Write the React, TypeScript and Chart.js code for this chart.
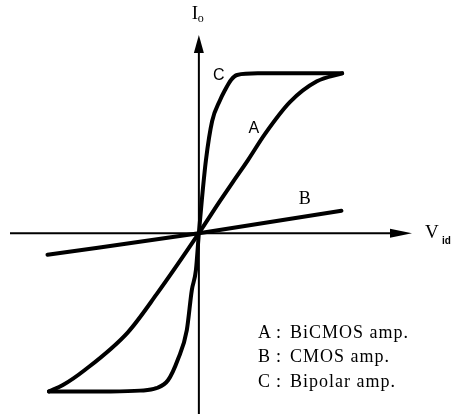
import React, { useEffect, useRef } from "react";
import { Chart, registerables } from "chart.js";

Chart.register(...registerables);

// Transfer characteristics: differential input voltage (normalised) vs output current (normalised)
const bipolarVid = [-1.02, -0.6, -0.4, -0.29, -0.21, -0.143, -0.082, -0.048, -0.02, 0, 0.02, 0.048, 0.09, 0.143, 0.177, 0.22, 0.26, 0.4, 0.975];
const bipolarIo = [-0.99, -0.99, -0.985, -0.97, -0.92, -0.79, -0.606, -0.356, -0.23, 0, 0.206, 0.456, 0.7, 0.83, 0.894, 0.96, 0.99, 1.0, 1.0];

const bicmosVid = [-1.02, -0.925, -0.776, -0.483, -0.286, 0, 0.143, 0.231, 0.333, 0.449, 0.619, 0.803, 0.975];
const bicmosIo = [-0.99, -0.95, -0.856, -0.62, -0.38, 0, 0.2, 0.32, 0.456, 0.62, 0.82, 0.95, 1.0];

const cmosVid = [-1.03, 0, 0.97];
const cmosIo = [-0.135, 0, 0.14];

// Curve tags and where they sit (data coordinates)
const tagText = ["C", "A", "B"];
const tagVid = [0.136, 0.374, 0.721];
const tagIo = [0.987, 0.656, 0.2125];

// Key in the lower right corner
const keyLetters = ["A", "B", "C"];
const keyNames = ["BiCMOS amp.", "CMOS amp.", "Bipolar amp."];

const toPoints = (xs: number[], ys: number[]) => xs.map((x, i) => ({ x, y: ys[i] }));

const SERIF = '"Liberation Serif", "DejaVu Serif", serif';
const SANS = '"Liberation Sans", Arial, sans-serif';

const decorations = {
  id: "decorations",
  beforeDatasetsDraw(chart: any) {
    const { ctx, chartArea, scales } = chart;
    const x0 = scales.x.getPixelForValue(0);
    const y0 = scales.y.getPixelForValue(0);
    ctx.save();
    ctx.strokeStyle = "#000";
    ctx.fillStyle = "#000";
    ctx.lineWidth = 2;
    // horizontal axis with arrow
    const xr = chartArea.right;
    ctx.beginPath();
    ctx.moveTo(chartArea.left, y0);
    ctx.lineTo(xr - 10, y0);
    ctx.stroke();
    ctx.beginPath();
    ctx.moveTo(xr, y0);
    ctx.lineTo(xr - 22, y0 - 4.5);
    ctx.lineTo(xr - 22, y0 + 4.5);
    ctx.closePath();
    ctx.fill();
    // vertical axis with arrow
    const yt = chartArea.top;
    ctx.beginPath();
    ctx.moveTo(x0, chart.height);
    ctx.lineTo(x0, yt + 10);
    ctx.stroke();
    ctx.beginPath();
    ctx.moveTo(x0, yt);
    ctx.lineTo(x0 - 5, yt + 18);
    ctx.lineTo(x0 + 5, yt + 18);
    ctx.closePath();
    ctx.fill();
    ctx.restore();
  },
  afterDatasetsDraw(chart: any) {
    const { ctx, chartArea, scales } = chart;
    const x0 = scales.x.getPixelForValue(0);
    const y0 = scales.y.getPixelForValue(0);
    ctx.save();
    ctx.fillStyle = "#000";
    ctx.textBaseline = "middle";
    // axis titles
    ctx.textAlign = "left";
    ctx.font = `19px ${SERIF}`;
    ctx.fillText("I", x0 - 7, chartArea.top - 21);
    ctx.font = `12px ${SERIF}`;
    ctx.fillText("o", x0 - 1, chartArea.top - 16);
    ctx.font = `19px ${SERIF}`;
    ctx.fillText("V", chartArea.right + 13, y0);
    ctx.font = `bold 10px ${SANS}`;
    ctx.fillText("id", chartArea.right + 30, y0 + 8);
    // curve tags
    ctx.textAlign = "center";
    tagText.forEach((t, i) => {
      ctx.font = t === "B" ? `18px ${SERIF}` : `16px ${SANS}`;
      ctx.fillText(t, scales.x.getPixelForValue(tagVid[i]), scales.y.getPixelForValue(tagIo[i]));
    });
    // key
    ctx.textAlign = "left";
    ctx.font = `18px ${SERIF}`;
    (ctx as any).letterSpacing = "1px";
    const kx = chartArea.left + 248;
    const ky = chartArea.bottom - 76;
    keyLetters.forEach((k, i) => {
      const y = ky + i * 24.5;
      ctx.fillText(k, kx, y);
      ctx.fillText(":", kx + 18, y);
      ctx.fillText(keyNames[i], kx + 32, y);
    });
    ctx.restore();
  },
};

export default function App() {
  const canvasRef = useRef<HTMLCanvasElement | null>(null);

  useEffect(() => {
    const canvas = canvasRef.current;
    if (!canvas) return;
    const line = (xs: number[], ys: number[]) => ({
      data: toPoints(xs, ys),
      showLine: true,
      borderColor: "#000",
      borderWidth: 4,
      pointRadius: 0,
      fill: false,
      cubicInterpolationMode: "monotone" as const,
      borderCapStyle: "round" as const,
      borderJoinStyle: "round" as const,
    });
    const chart = new Chart(canvas, {
      type: "scatter",
      data: {
        datasets: [
          { label: "C : Bipolar amp.", ...line(bipolarVid, bipolarIo) },
          { label: "A : BiCMOS amp.", ...line(bicmosVid, bicmosIo) },
          { label: "B : CMOS amp.", ...line(cmosVid, cmosIo) },
        ],
      },
      options: {
        animation: false,
        responsive: false,
        layout: { padding: { left: 10, right: 43, top: 35, bottom: 5 } },
        plugins: { legend: { display: false }, tooltip: { enabled: false } },
        scales: {
          x: { type: "linear", min: -1.285, max: 1.45, display: false },
          y: { type: "linear", min: -1.1, max: 1.24, display: false },
        },
      },
      plugins: [decorations],
    });
    return () => chart.destroy();
  }, []);

  return (
    <div style={{ position: "absolute", left: 0, top: 0, width: 455, height: 414, background: "#fff" }}>
      <canvas ref={canvasRef} width={455} height={414} />
    </div>
  );
}
